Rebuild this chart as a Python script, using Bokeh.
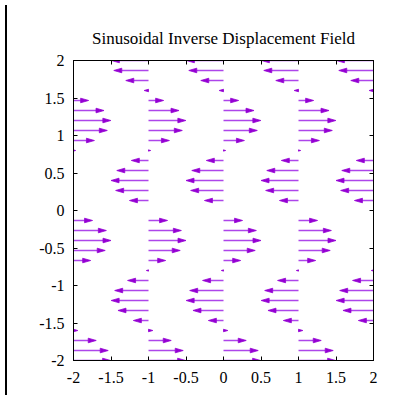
from bokeh.plotting import figure
from bokeh.models import LinearAxis, FixedTicker, Div
from bokeh.layouts import row
from bokeh.embed import file_html
from bokeh.resources import INLINE

# ---- data ----
x_tails = [-2, -1, 0, 1, 2]
y_rows = [2.0, 1.867, 1.733, 1.6, 1.467, 1.333, 1.2, 1.067, 0.933, 0.8,
          0.667, 0.533, 0.4, 0.267, 0.133, 0.0, -0.133, -0.267, -0.4, -0.533,
          -0.667, -0.8, -0.933, -1.067, -1.2, -1.333, -1.467, -1.6, -1.733,
          -1.867, -2.0]
dx_rows = [-0.495, -0.463, -0.303, -0.058, 0.202, 0.407, 0.498, 0.451, 0.279, 0.029,
           -0.229, -0.423, -0.500, -0.438, -0.254, 0.0, 0.254, 0.438, 0.500, 0.423,
           0.229, -0.029, -0.279, -0.451, -0.498, -0.407, -0.202, 0.058, 0.303,
           0.463, 0.495]
x_ticks = [-2, -1.5, -1, -0.5, 0, 0.5, 1, 1.5, 2]
x_tick_labels = ["-2", "-1.5", "-1", "-0.5", "0", "0.5", "1", "1.5", "2"]
y_ticks = [-2, -1.5, -1, -0.5, 0, 0.5, 1, 1.5, 2]
y_tick_labels = ["-2", "-1.5", "-1", "-0.5", "0", "0.5", "1", "1.5", "2"]
title_text = "Sinusoidal Inverse Displacement Field"

COLOR = "#9400d3"
SHAFT = "#ad45ea"
FONT = "Liberation Serif"

FRAME_W, FRAME_H = 300, 300
p = figure(width=381, height=390, x_range=(-2, 2), y_range=(-2, 2),
           output_backend="svg", toolbar_location=None,
           min_border_left=61, min_border_right=20,
           min_border_top=60, min_border_bottom=30)
p.title.text = title_text
p.title.align = "center"
p.title.text_font = FONT
p.title.text_font_style = "normal"
p.title.text_font_size = "17px"
p.title.text_color = "black"
p.title.standoff = 25

px_per_unit = FRAME_W / 4.0
head_len_px = 8.0
head_hw_px = 2.3

x0, x1, ys = [], [], []
hx, hy = [], []
for y, dx in zip(y_rows, dx_rows):
    if dx == 0:
        continue
    s = 1 if dx > 0 else -1
    L = min(head_len_px / px_per_unit, abs(dx))
    hw = (head_hw_px / px_per_unit) * (L * px_per_unit / head_len_px)
    for xt in x_tails:
        tip = xt + dx
        base = tip - s * L
        x0.append(xt); x1.append(base + s * 0.3 / px_per_unit); ys.append(y)
        hx.append([tip, base, base])
        hy.append([y, y + hw, y - hw])

p.segment(x0=x0, y0=ys, x1=x1, y1=ys, line_color=SHAFT, line_width=1.5)
p.patches(xs=hx, ys=hy, fill_color=COLOR, line_color=COLOR, line_width=0.8)

p.xgrid.visible = False
p.ygrid.visible = False
p.outline_line_color = "black"
p.outline_line_width = 1

def style_axis(ax, ticks, labels, show_labels):
    ax.ticker = FixedTicker(ticks=ticks)
    ax.major_tick_in = 4
    ax.major_tick_out = 0
    ax.minor_tick_in = 0
    ax.minor_tick_out = 0
    ax.axis_line_color = "black"
    ax.major_tick_line_color = "black"
    if show_labels:
        ax.major_label_overrides = {t: l for t, l in zip(ticks, labels)}
        ax.major_label_text_font = FONT
        ax.major_label_text_font_size = "16px"
        ax.major_label_text_color = "black"
    else:
        ax.major_label_overrides = {t: "" for t in ticks}
        ax.major_label_standoff = 0

style_axis(p.xaxis[0], x_ticks, x_tick_labels, True)
style_axis(p.yaxis[0], y_ticks, y_tick_labels, True)
p.xaxis[0].major_label_standoff = 11
p.yaxis[0].major_label_standoff = 9

top = LinearAxis()
style_axis(top, x_ticks, x_tick_labels, False)
top.major_label_standoff = 6
p.add_layout(top, "above")
right = LinearAxis()
style_axis(right, y_ticks, y_tick_labels, False)
p.add_layout(right, "right")

bar = Div(width=2, height=390, styles={"background-color": "black"})
layout = row(bar, p)

open("out.html", "w").write(file_html(layout, INLINE))
